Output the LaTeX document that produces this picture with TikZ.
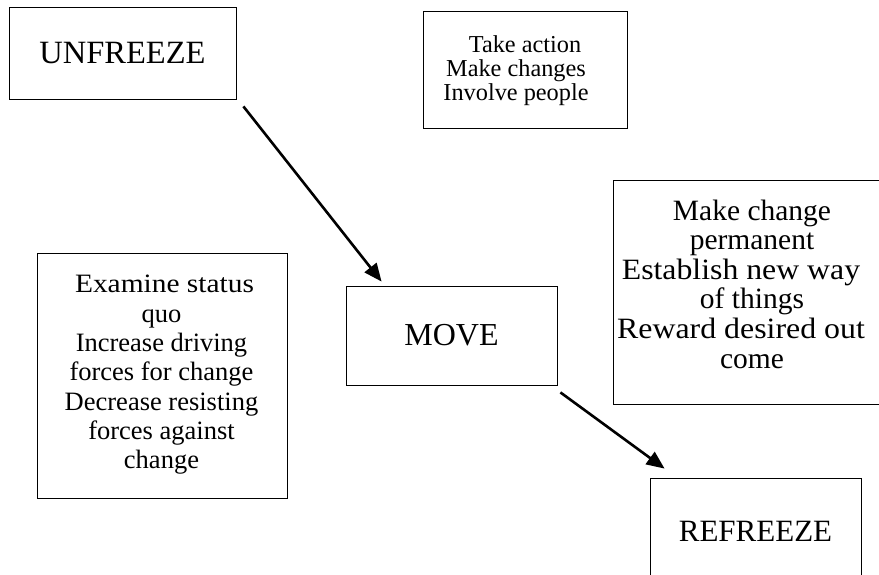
\documentclass[tikz,border=0pt]{standalone}
\usepackage{graphicx}
\usepackage{fontspec}
\setmainfont{Liberation Serif}
\usetikzlibrary{arrows.meta,calc}
\begin{document}
\begin{tikzpicture}[x=1pt,y=1pt,
  box/.style={draw=black,line width=0.8pt,inner sep=0pt},
  txt/.style={align=center,inner sep=0pt},
  arr/.style={line width=2.6pt,-{Triangle[length=18pt,width=15pt]}}]
\clip (0,0) rectangle (879,574);
\fill[white] (0,0) rectangle (879,574);
% boxes
\node[box,minimum width=227pt,minimum height=92pt,font=\fontsize{32.5}{36}\selectfont] (unfreeze) at (122.5,521) {UNFREEZE};
\node[box,minimum width=204pt,minimum height=117pt] (actbox) at (525,504.5) {};
\node[txt,font=\fontsize{24.3}{24.2}\selectfont] (acttext) at (516,503.6) {\hspace*{18pt}Take action\\Make changes\\Involve people};
\node[box,minimum width=250pt,minimum height=245pt] (unfbox) at (162,198.5) {};
\node[txt,font=\fontsize{26.5}{29.3}\selectfont] (unftext) at (161.5,199.1) {\hspace*{6pt}\scalebox{1.11}[1]{Examine status}\\quo\\Increase driving\\forces for change\\Decrease resisting\\forces against\\change};
\node[box,minimum width=282pt,minimum height=224pt] (refbox) at (754,282) {};
\node[txt,font=\fontsize{29.5}{29.6}\selectfont] (reftext) at (752,290) {Make change\\permanent\\\scalebox{1.077}[1]{Establish new way}\rule{22pt}{0pt}\\of things\\\scalebox{1.08}[1]{Reward desired out}\rule{22pt}{0pt}\\come};
\node[box,minimum width=211pt,minimum height=99pt,font=\fontsize{32}{36}\selectfont] (move) at (451.5,238.5) {MOVE};
\node[box,minimum width=211pt,minimum height=106pt,font=\fontsize{31}{35}\selectfont] (refreeze) at (755.5,43) {REFREEZE};
% arrows
\draw[arr] ($(unfreeze.south east)+(7,-7)$) -- ($(move.north west)+(36,4)$);
\draw[arr] ($(move.south east)+(3,-7)$) -- ($(refreeze.north west)+(15,9)$);
\end{tikzpicture}
\end{document}
